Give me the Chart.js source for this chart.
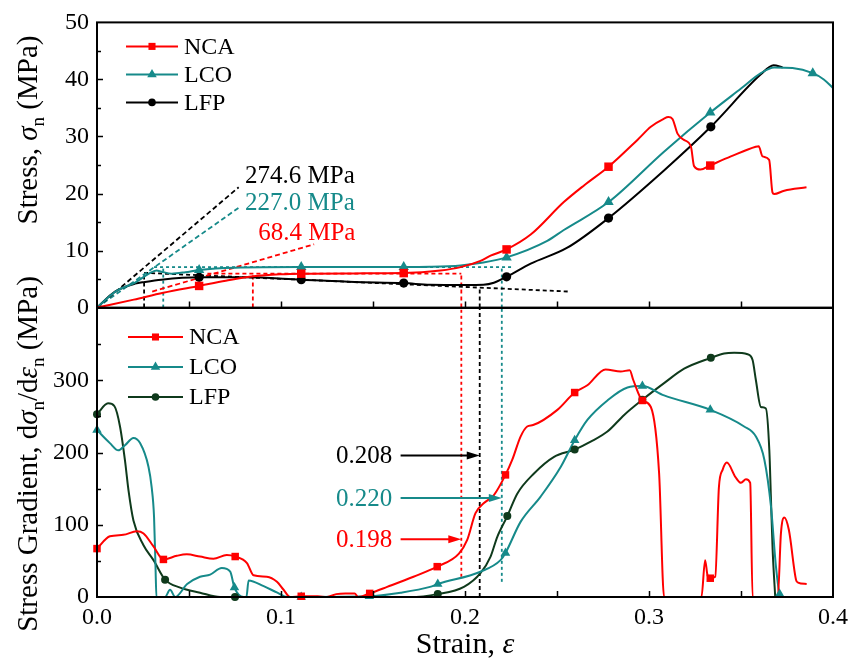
<!DOCTYPE html>
<html>
<head>
<meta charset="utf-8">
<title>Stress and stress gradient vs strain</title>
<script src="https://cdn.jsdelivr.net/npm/chart.js@4.4.1/dist/chart.umd.min.js"></script>
<style>
  body { margin: 0; background: #fff; }
  #wrap { position: relative; width: 861px; height: 662px; }
  #wrap canvas { position: absolute; left: 0; }
  #stressChart { top: 0; }
  #gradChart { top: 250px; }
</style>
</head>
<body>
<div id="wrap">
  <canvas id="stressChart" width="861" height="330"></canvas>
  <canvas id="gradChart" width="861" height="412"></canvas>
</div>
<script>
const FONT = "'Liberation Serif', 'Times New Roman', serif";
const RED = '#ff0000', TEAL = '#168a8a', BLACK = '#000000', DARK = '#0f3a1c';

// axes
const strainTicks = [0, 0.1, 0.2, 0.3, 0.4];
const stressTicks = [0, 10, 20, 30, 40, 50];
const gradTicks = [0, 100, 200, 300];
const cellNames = ['NCA', 'LCO', 'LFP'];

// ---- stress vs strain (upper panel)
const ncaStrain = [0, 0.02, 0.036, 0.0555, 0.07, 0.085, 0.1, 0.111, 0.14, 0.1667, 0.1867, 0.1976, 0.2084, 0.2139, 0.2226, 0.2357, 0.2537, 0.265, 0.278, 0.2937, 0.301, 0.308, 0.3105, 0.3127, 0.3155, 0.319, 0.3228, 0.3245, 0.328, 0.333, 0.3445, 0.358, 0.3596, 0.3617, 0.3653, 0.3671, 0.368, 0.3735, 0.3856];
const ncaStress = [0, 1.4, 2.6, 3.8, 4.7, 5.5, 5.85, 5.95, 6.0, 6.05, 6.5, 7.1, 8.2, 9.1, 10.2, 12.8, 18.5, 21.5, 24.7, 29.4, 31.7, 33.1, 33.4, 33.1, 30.5, 29.4, 28.2, 24.8, 24.2, 24.9, 26.5, 28.2, 28.3, 26.5, 25.9, 20.2, 19.9, 20.5, 21.1];
const lcoStrain = [0, 0.01, 0.0207, 0.028, 0.0324, 0.035, 0.0406, 0.048, 0.0555, 0.075, 0.111, 0.1667, 0.181, 0.1976, 0.21, 0.2226, 0.2447, 0.2537, 0.278, 0.308, 0.3333, 0.35, 0.3608, 0.368, 0.378, 0.389, 0.395, 0.4];
const lcoStress = [0, 2.8, 4.4, 5.9, 6.5, 6.3, 5.95, 6.2, 6.6, 7.0, 7.1, 7.1, 7.15, 7.4, 7.9, 8.8, 11.7, 13.6, 18.5, 27.3, 34.2, 38.4, 41.1, 42.1, 42.0, 41.1, 40.0, 38.5];
const lfpStrain = [0, 0.0098, 0.0207, 0.026, 0.035, 0.0555, 0.08, 0.111, 0.14, 0.1667, 0.181, 0.2, 0.21, 0.2157, 0.2226, 0.2357, 0.2556, 0.278, 0.308, 0.3336, 0.3608, 0.3677, 0.3726];
const lfpStress = [0, 2.8, 4.2, 4.5, 4.9, 5.3, 5.3, 4.9, 4.5, 4.3, 4.0, 3.95, 4.0, 4.35, 5.4, 7.7, 10.5, 15.7, 24.0, 31.7, 40.9, 42.5, 42.1];

const ncaMarkStrain = [0.0555, 0.111, 0.1667, 0.2226, 0.278, 0.3333];
const ncaMarkStress = [3.8, 5.95, 6.05, 10.2, 24.7, 24.9];
const lcoMarkStrain = [0.0555, 0.111, 0.1667, 0.2226, 0.278, 0.3333, 0.389];
const lcoMarkStress = [6.6, 7.1, 7.1, 8.8, 18.5, 34.2, 41.1];
const lfpMarkStrain = [0.0555, 0.111, 0.1667, 0.2226, 0.278, 0.3336];
const lfpMarkStress = [5.3, 4.9, 4.3, 5.4, 15.7, 31.7];

// construction lines: tangents, plateau levels and drop lines
const tangentStrain = [0, 0.077];
const lfpTangent = [0, 21.1];
const lcoTangent = [0, 17.5];
const ncaTangentStrain = [0.03, 0.118];
const ncaTangent = [2.8, 11.1];
const lfpPlateauStrain = [0.0256, 0.2574];
const lfpPlateau = [6.1, 2.8];
const lcoPlateauStrain = [0.031, 0.2256];
const lcoPlateau = [7.1, 7.1];
const ncaPlateauStrain = [0.06, 0.198];
const ncaPlateau = [5.95, 5.95];
const lfpDrops = [0.0256, 0.208];
const lfpDropTop = [6.1, 3.5];
const lcoDrops = [0.036, 0.220];
const lcoDropTop = [7.1, 7.1];
const ncaDrops = [0.0847, 0.198];
const ncaDropTop = [5.95, 5.95];

// ---- stress gradient vs strain (lower panel)
const ncaGradStrain = [0, 0.007, 0.0143, 0.0216, 0.0253, 0.0307, 0.0361, 0.0434, 0.0488, 0.056, 0.0633, 0.0705, 0.0751, 0.0815, 0.0851, 0.0923, 0.0978, 0.1014, 0.105, 0.111, 0.12, 0.125, 0.13, 0.135, 0.14, 0.142, 0.1482, 0.1577, 0.172, 0.1849, 0.1967, 0.2012, 0.2057, 0.2103, 0.2157, 0.222, 0.2257, 0.2302, 0.2338, 0.237, 0.2502, 0.2596, 0.2665, 0.2764, 0.2846, 0.2895, 0.2915, 0.2964, 0.301, 0.3055, 0.3082, 0.3285, 0.3305, 0.3318, 0.3333, 0.336, 0.338, 0.34, 0.3423, 0.347, 0.35, 0.3527, 0.355, 0.3563, 0.37, 0.3717, 0.3735, 0.376, 0.3799, 0.381, 0.3857];
const ncaGrad = [67, 84, 86, 91, 88, 70, 52, 57, 59, 56, 53, 58, 56, 47, 30, 28, 21, 10, 0, 1, 1, 0, 4, 5, 5, 0, 5, 14, 28, 42, 60, 79, 116, 130, 141, 169, 190, 222, 236, 238, 259, 283, 293, 315, 312, 314, 300, 272, 263, 171, 0, 0, 51, 30, 26, 28, 152, 176, 186, 166, 158, 163, 158, 0, 0, 88, 110, 93, 24, 20, 18];
const lcoGradStrain = [0, 0.007, 0.0116, 0.0152, 0.0198, 0.0234, 0.028, 0.0297, 0.031, 0.0318, 0.0323, 0.037, 0.0397, 0.0425, 0.049, 0.056, 0.0615, 0.0678, 0.0724, 0.0747, 0.0797, 0.0812, 0.0824, 0.0906, 0.098, 0.1035, 0.148, 0.165, 0.181, 0.1852, 0.2084, 0.2193, 0.222, 0.2302, 0.2411, 0.252, 0.2596, 0.2665, 0.2774, 0.2883, 0.2964, 0.3082, 0.3333, 0.3517, 0.3581, 0.3627, 0.3663, 0.369, 0.371, 0.3725];
const lcoGrad = [231, 213, 203, 210, 220, 213, 180, 152, 111, 42, 0, 0, 10, 0, 18, 28, 31, 40, 35, 13, 0, 0, 23, 15, 6, 0, 1, 6, 14, 18, 35, 51, 61, 104, 139, 180, 217, 245, 272, 290, 292, 279, 259, 236, 222, 190, 125, 42, 4, 0];
const lfpGradStrain = [0, 0.006, 0.0095, 0.0125, 0.0152, 0.0171, 0.0198, 0.0252, 0.0307, 0.037, 0.0452, 0.056, 0.0669, 0.075, 0.17, 0.1852, 0.1994, 0.2084, 0.2139, 0.2175, 0.223, 0.2284, 0.2375, 0.2484, 0.2596, 0.2683, 0.2774, 0.2865, 0.2964, 0.3082, 0.3191, 0.3336, 0.3408, 0.3463, 0.3536, 0.3563, 0.3581, 0.3608, 0.3635, 0.3654, 0.3663, 0.3672, 0.3686];
const lfpGrad = [253, 268, 264, 236, 189, 148, 106, 72, 51, 24, 13, 6, 0, 0, 0, 4, 14, 33, 56, 83, 112, 143, 171, 194, 204, 215, 229, 252, 273, 296, 316, 331, 337, 338, 336, 328, 300, 263, 261, 203, 134, 65, 0];

const ncaGradMarkStrain = [0, 0.0361, 0.0751, 0.111, 0.1482, 0.1849, 0.222, 0.2596, 0.2964, 0.3333];
const ncaGradMark = [67, 52, 56, 1, 5, 42, 169, 283, 272, 26];
const lcoGradMarkStrain = [0, 0.0747, 0.111, 0.148, 0.1852, 0.222, 0.2596, 0.2964, 0.3333, 0.371];
const lcoGradMark = [231, 13, 0, 1, 18, 61, 217, 292, 259, 4];
const lfpGradMarkStrain = [0, 0.037, 0.075, 0.1852, 0.223, 0.2596, 0.2964, 0.3336];
const lfpGradMark = [253, 24, 0, 4, 112, 204, 273, 331];

// onset strains picked off the gradient curves
const onsetStrain = [0.198, 0.220, 0.208];   // NCA, LCO, LFP
const onsetLevel = [80, 137, 196];
const onsetFloor = [28, 21, 0];
const gradTop = 400;

const pts = (xs, ys) => xs.map((x, i) => ({ x: x, y: ys[i] }));

function curve(xs, ys, color) {
    return { data: pts(xs, ys), borderColor: color, borderWidth: 2, pointRadius: 0,
             cubicInterpolationMode: 'monotone', order: 1 };
}
function marks(xs, ys, color, style, r) {
    return { data: pts(xs, ys), showLine: false, pointStyle: style, pointRadius: r,
             pointBackgroundColor: color, pointBorderColor: color, pointBorderWidth: 0,
             clip: false, order: 0 };
}
function guide(xs, ys, color, dash) {
    return { data: pts(xs, ys), borderColor: color, borderWidth: 1.8, borderDash: dash,
             pointRadius: 0, tension: 0, order: 2 };
}

// text with italic greek letters and subscripts
function drawRich(ctx, parts, size, cx, cy, angle) {
    const fontOf = p => (p.it ? 'italic ' : '') + (p.sub ? Math.round(size * 0.66) : size) + 'px ' + FONT;
    ctx.save();
    ctx.translate(cx, cy);
    ctx.rotate(angle);
    ctx.textAlign = 'left';
    ctx.textBaseline = 'alphabetic';
    let w = 0;
    parts.forEach(p => { ctx.font = fontOf(p); w += ctx.measureText(p.t).width; });
    let x = -w / 2;
    parts.forEach(p => {
        ctx.font = fontOf(p);
        ctx.fillText(p.t, x, p.sub ? size * 0.24 : 0);
        x += ctx.measureText(p.t).width;
    });
    ctx.restore();
}

function arrow(ctx, x0, x1, y, color) {
    ctx.strokeStyle = color;
    ctx.fillStyle = color;
    ctx.lineWidth = 2;
    ctx.beginPath();
    ctx.moveTo(x0, y);
    ctx.lineTo(x1 - 10, y);
    ctx.stroke();
    ctx.beginPath();
    ctx.moveTo(x1, y);
    ctx.lineTo(x1 - 13, y - 4);
    ctx.lineTo(x1 - 13, y + 4);
    ctx.closePath();
    ctx.fill();
}

// frame, inward ticks, legend, titles and annotations
const decor = {
    id: 'decor',
    afterDraw(chart, args, o) {
        const ctx = chart.ctx, a = chart.chartArea;
        const sx = chart.scales.x, sy = chart.scales.y;
        ctx.save();
        ctx.strokeStyle = '#000';
        ctx.lineWidth = 1.5;
        ctx.beginPath();
        for (let v = 0.05; v < 0.399; v += 0.05) {
            const px = Math.round(sx.getPixelForValue(v)) + 0.5;
            ctx.moveTo(px, a.bottom);
            ctx.lineTo(px, a.bottom - 6);
        }
        for (let k = 1; k * o.yMinor < sy.max - 1e-9; k++) {
            const py = Math.round(sy.getPixelForValue(k * o.yMinor)) + 0.5;
            ctx.moveTo(a.left, py);
            ctx.lineTo(a.left + (k % 2 === 0 ? 6 : 4), py);
        }
        ctx.stroke();
        ctx.lineWidth = 2;
        ctx.strokeRect(a.left, a.top, a.right - a.left, a.bottom - a.top);

        // legend
        o.legend.forEach((it, i) => {
            const y = a.top + o.legendTop + i * o.legendGap;
            const x0 = a.left + o.legendX;
            ctx.strokeStyle = it.color;
            ctx.lineWidth = 2;
            ctx.beginPath();
            ctx.moveTo(x0, y);
            ctx.lineTo(x0 + o.legendLen, y);
            ctx.stroke();
            ctx.fillStyle = it.color;
            Chart.helpers.drawPoint(ctx, { pointStyle: it.style, radius: it.r, borderWidth: 0, rotation: 0 },
                                    x0 + o.legendLen / 2, y);
            ctx.fillStyle = '#000';
            ctx.font = '24px ' + FONT;
            ctx.textAlign = 'left';
            ctx.textBaseline = 'middle';
            ctx.fillText(cellNames[i], x0 + o.legendLen + 6, y + 1);
        });

        // value notes
        o.notes.forEach(n => {
            ctx.fillStyle = n.color;
            ctx.font = '25px ' + FONT;
            ctx.textAlign = n.align || 'left';
            ctx.textBaseline = 'middle';
            ctx.fillText(n.text, sx.getPixelForValue(n.x), sy.getPixelForValue(n.y) + 1);
        });
        o.arrows.forEach(ar => {
            arrow(ctx, sx.getPixelForValue(ar.from), sx.getPixelForValue(ar.to),
                  sy.getPixelForValue(ar.y), ar.color);
        });

        ctx.fillStyle = '#000';
        drawRich(ctx, o.yTitle, 29, o.yTitleX, o.yTitleY, -Math.PI / 2);
        if (o.xTitle) drawRich(ctx, o.xTitle, 30, (a.left + a.right) / 2, o.xTitleY, 0);
        ctx.restore();
    }
};

function yScale(min, max, ticks) {
    return {
        type: 'linear', min: min, max: max,
        afterBuildTicks: s => { s.ticks = ticks.map(v => ({ value: v })); },
        afterFit: s => { s.width = 97; },
        grid: { display: false, drawTicks: false },
        border: { display: false },
        ticks: { font: { family: FONT, size: 24 }, color: '#000', padding: 8 }
    };
}

Chart.defaults.font.family = FONT;

new Chart(document.getElementById('stressChart'), {
    type: 'line',
    data: {
        datasets: [
            marks(ncaMarkStrain, ncaMarkStress, RED, 'rect', 6),
            marks(lcoMarkStrain, lcoMarkStress, TEAL, 'triangle', 6),
            marks(lfpMarkStrain, lfpMarkStress, BLACK, 'circle', 4.6),
            curve(ncaStrain, ncaStress, RED),
            curve(lcoStrain, lcoStress, TEAL),
            curve(lfpStrain, lfpStress, BLACK),
            guide(tangentStrain, lfpTangent, BLACK, [5, 3]),
            guide(tangentStrain, lcoTangent, TEAL, [5, 3]),
            guide(ncaTangentStrain, ncaTangent, RED, [5, 3]),
            guide(lfpPlateauStrain, lfpPlateau, BLACK, [4, 3]),
            guide(lcoPlateauStrain, lcoPlateau, TEAL, [3, 3]),
            guide(ncaPlateauStrain, ncaPlateau, RED, [4, 3]),
            guide([lfpDrops[0], lfpDrops[0]], [0, lfpDropTop[0]], BLACK, [4, 3]),
            guide([lfpDrops[1], lfpDrops[1]], [0, lfpDropTop[1]], BLACK, [4, 3]),
            guide([lcoDrops[0], lcoDrops[0]], [0, lcoDropTop[0]], TEAL, [3, 3]),
            guide([lcoDrops[1], lcoDrops[1]], [0, lcoDropTop[1]], TEAL, [3, 3]),
            guide([ncaDrops[0], ncaDrops[0]], [0, ncaDropTop[0]], RED, [4, 3]),
            guide([ncaDrops[1], ncaDrops[1]], [0, ncaDropTop[1]], RED, [4, 3])
        ]
    },
    options: {
        responsive: false,
        devicePixelRatio: 1,
        animation: false,
        events: [],
        layout: { autoPadding: false, padding: { top: 16, left: 0, right: 28, bottom: 22 } },
        scales: {
            x: { type: 'linear', min: 0, max: 0.4, display: false },
            y: yScale(0, 50, stressTicks)
        },
        plugins: {
            legend: { display: false },
            tooltip: { enabled: false },
            decor: {
                yMinor: 5,
                legend: [
                    { color: RED, style: 'rect', r: 5 },
                    { color: TEAL, style: 'triangle', r: 5.5 },
                    { color: BLACK, style: 'circle', r: 3.8 }
                ],
                legendX: 29, legendLen: 52, legendTop: 24, legendGap: 28,
                notes: [
                    { text: '274.6 MPa', x: 0.0805, y: 23.2, color: BLACK },
                    { text: '227.0 MPa', x: 0.0805, y: 18.35, color: TEAL },
                    { text: '68.4 MPa', x: 0.0876, y: 13.2, color: RED }
                ],
                arrows: [],
                yTitle: [{ t: 'Stress, ' }, { t: 'σ', it: true }, { t: 'n', sub: true }, { t: ' (MPa)' }],
                yTitleX: 37, yTitleY: 130
            }
        }
    },
    plugins: [decor]
});

new Chart(document.getElementById('gradChart'), {
    type: 'line',
    data: {
        datasets: [
            marks(ncaGradMarkStrain, ncaGradMark, RED, 'rect', 5.3),
            marks(lcoGradMarkStrain, lcoGradMark, TEAL, 'triangle', 5.5),
            marks(lfpGradMarkStrain, lfpGradMark, DARK, 'circle', 4),
            curve(ncaGradStrain, ncaGrad, RED),
            curve(lcoGradStrain, lcoGrad, TEAL),
            curve(lfpGradStrain, lfpGrad, DARK),
            guide([onsetStrain[0], onsetStrain[0]], [onsetFloor[0], gradTop], RED, [3, 3]),
            guide([onsetStrain[1], onsetStrain[1]], [onsetFloor[1], gradTop], TEAL, [3, 3]),
            guide([onsetStrain[2], onsetStrain[2]], [onsetFloor[2], gradTop], BLACK, [4, 3])
        ]
    },
    options: {
        responsive: false,
        devicePixelRatio: 1,
        animation: false,
        events: [],
        layout: { autoPadding: false, padding: { top: 58, left: 0, right: 28, bottom: 0 } },
        scales: {
            x: {
                type: 'linear', min: 0, max: 0.4,
                afterBuildTicks: s => { s.ticks = strainTicks.map(v => ({ value: v })); },
                afterFit: s => { s.height = 65; },
                grid: { display: false, drawTicks: false },
                border: { display: false },
                ticks: { font: { family: FONT, size: 24 }, color: '#000', padding: 6, maxRotation: 0,
                         callback: v => v.toFixed(1) }
            },
            y: yScale(0, gradTop, gradTicks)
        },
        plugins: {
            legend: { display: false },
            tooltip: { enabled: false },
            decor: {
                yMinor: 50,
                legend: [
                    { color: RED, style: 'rect', r: 5 },
                    { color: TEAL, style: 'triangle', r: 5.5 },
                    { color: DARK, style: 'circle', r: 3.8 }
                ],
                legendX: 31, legendLen: 55, legendTop: 29, legendGap: 30,
                notes: [
                    { text: '0.208', x: 0.1605, y: onsetLevel[2], color: BLACK, align: 'right' },
                    { text: '0.220', x: 0.1605, y: onsetLevel[1], color: TEAL, align: 'right' },
                    { text: '0.198', x: 0.1605, y: onsetLevel[0], color: RED, align: 'right' }
                ],
                arrows: [
                    { from: 0.165, to: onsetStrain[2], y: onsetLevel[2], color: BLACK },
                    { from: 0.165, to: onsetStrain[1], y: onsetLevel[1], color: TEAL },
                    { from: 0.165, to: onsetStrain[0], y: onsetLevel[0], color: RED }
                ],
                yTitle: [{ t: 'Stress Gradient, d' }, { t: 'σ', it: true }, { t: 'n', sub: true },
                         { t: '/d' }, { t: 'ε', it: true }, { t: 'n', sub: true }, { t: ' (MPa)' }],
                yTitleX: 37, yTitleY: 204,
                xTitle: [{ t: 'Strain, ' }, { t: 'ε', it: true }],
                xTitleY: 403
            }
        }
    },
    plugins: [decor]
});
</script>
</body>
</html>
